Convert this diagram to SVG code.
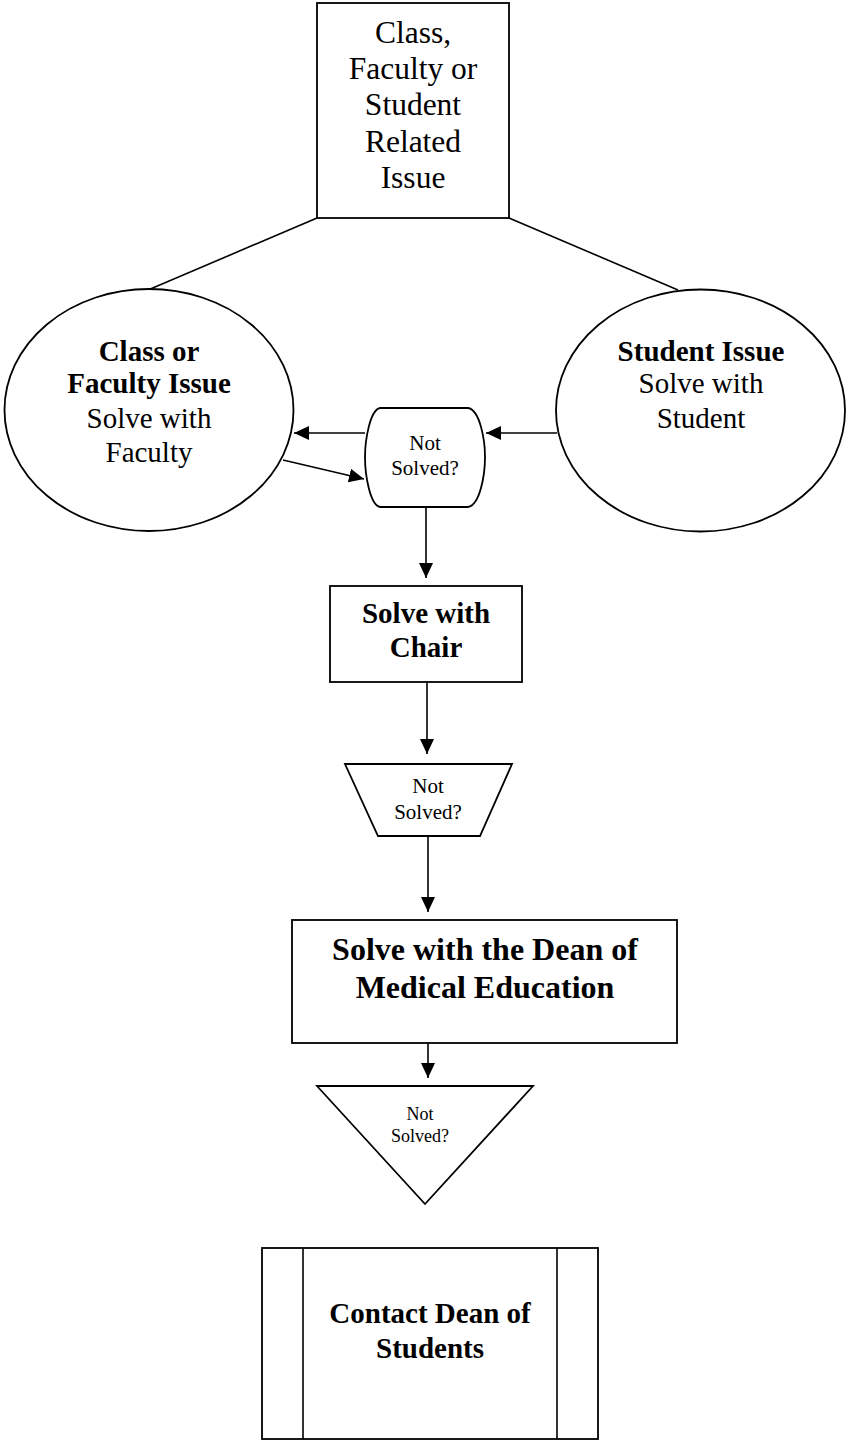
<svg xmlns="http://www.w3.org/2000/svg" width="846" height="1441" viewBox="0 0 846 1441">
<style>
.shape{fill:#fff;stroke:#000;stroke-width:1.8}
.line{fill:none;stroke:#000;stroke-width:1.6}
text{font-family:"Liberation Serif","Times New Roman",serif;fill:#000;text-anchor:middle}
.b{font-weight:bold}
.t31{font-size:31.5px}
.t29{font-size:29px}
.t32{font-size:32px}
.t21{font-size:21px}
.t18{font-size:18px}
</style>
<defs>
<marker id="arr" markerUnits="userSpaceOnUse" markerWidth="16" markerHeight="14" refX="15" refY="7" orient="auto">
<path d="M0,0 L15,7 L0,14 Z" fill="#000"/>
</marker>
</defs>
<rect width="846" height="1441" fill="#fff"/>
<g id="connectors">
<line class="line" x1="317" y1="218" x2="148" y2="290"/>
<line class="line" x1="509" y1="218" x2="678" y2="290"/>
<line class="line" x1="365" y1="433" x2="294" y2="433" marker-end="url(#arr)"/>
<line class="line" x1="557" y1="433" x2="486" y2="433" marker-end="url(#arr)"/>
<line class="line" x1="283" y1="460" x2="364" y2="479" marker-end="url(#arr)"/>
<line class="line" x1="426" y1="507" x2="426" y2="578" marker-end="url(#arr)"/>
<line class="line" x1="427" y1="682" x2="427" y2="754" marker-end="url(#arr)"/>
<line class="line" x1="428" y1="836" x2="428" y2="912" marker-end="url(#arr)"/>
<line class="line" x1="428" y1="1043" x2="428" y2="1078" marker-end="url(#arr)"/>
</g>
<g id="top">
<rect class="shape" x="317" y="3" width="192" height="215"/>
<text class="t31" x="413" y="43">Class,</text>
<text class="t31" x="413" y="79">Faculty or</text>
<text class="t31" x="413" y="115">Student</text>
<text class="t31" x="413" y="152">Related</text>
<text class="t31" x="413" y="188">Issue</text>
</g>
<g id="class-faculty">
<ellipse class="shape" cx="149" cy="410" rx="144.5" ry="121"/>
<text class="t29 b" x="149" y="361">Class or</text>
<text class="t29 b" x="149" y="393">Faculty Issue</text>
<text class="t29" x="149" y="428">Solve with</text>
<text class="t29" x="149" y="462">Faculty</text>
</g>
<g id="student">
<ellipse class="shape" cx="700.5" cy="410.5" rx="144.5" ry="121"/>
<text class="t29 b" x="701" y="361">Student Issue</text>
<text class="t29" x="701" y="393">Solve with</text>
<text class="t29" x="701" y="428">Student</text>
</g>
<g id="not-solved-1">
<path class="shape" d="M380,408 H468 C480,410 485,440 485,457 C485,475 480,505 468,507 H380 C370,505 365,475 365,457 C365,440 370,410 380,408 Z"/>
<text class="t21" x="425" y="450">Not</text>
<text class="t21" x="425" y="475">Solved?</text>
</g>
<g id="chair">
<rect class="shape" x="330" y="586" width="192" height="96"/>
<text class="t29 b" x="426" y="623">Solve with</text>
<text class="t29 b" x="426" y="657">Chair</text>
</g>
<g id="not-solved-2">
<path class="shape" d="M345,764 H512 L480,836 H378 Z"/>
<text class="t21" x="428" y="793">Not</text>
<text class="t21" x="428" y="819">Solved?</text>
</g>
<g id="dean-med">
<rect class="shape" x="292" y="920" width="385" height="123"/>
<text class="t32 b" x="485" y="960">Solve with the Dean of</text>
<text class="t32 b" x="485" y="998">Medical Education</text>
</g>
<g id="not-solved-3">
<path class="shape" d="M317,1086 H533 L425,1204 Z"/>
<text class="t18" x="420" y="1120">Not</text>
<text class="t18" x="420" y="1142">Solved?</text>
</g>
<g id="dean-students">
<rect class="shape" x="262" y="1248" width="336" height="191"/>
<line class="line" x1="303" y1="1248" x2="303" y2="1439"/>
<line class="line" x1="557" y1="1248" x2="557" y2="1439"/>
<text class="t29 b" x="430" y="1323">Contact Dean of</text>
<text class="t29 b" x="430" y="1358">Students</text>
</g>
</svg>
